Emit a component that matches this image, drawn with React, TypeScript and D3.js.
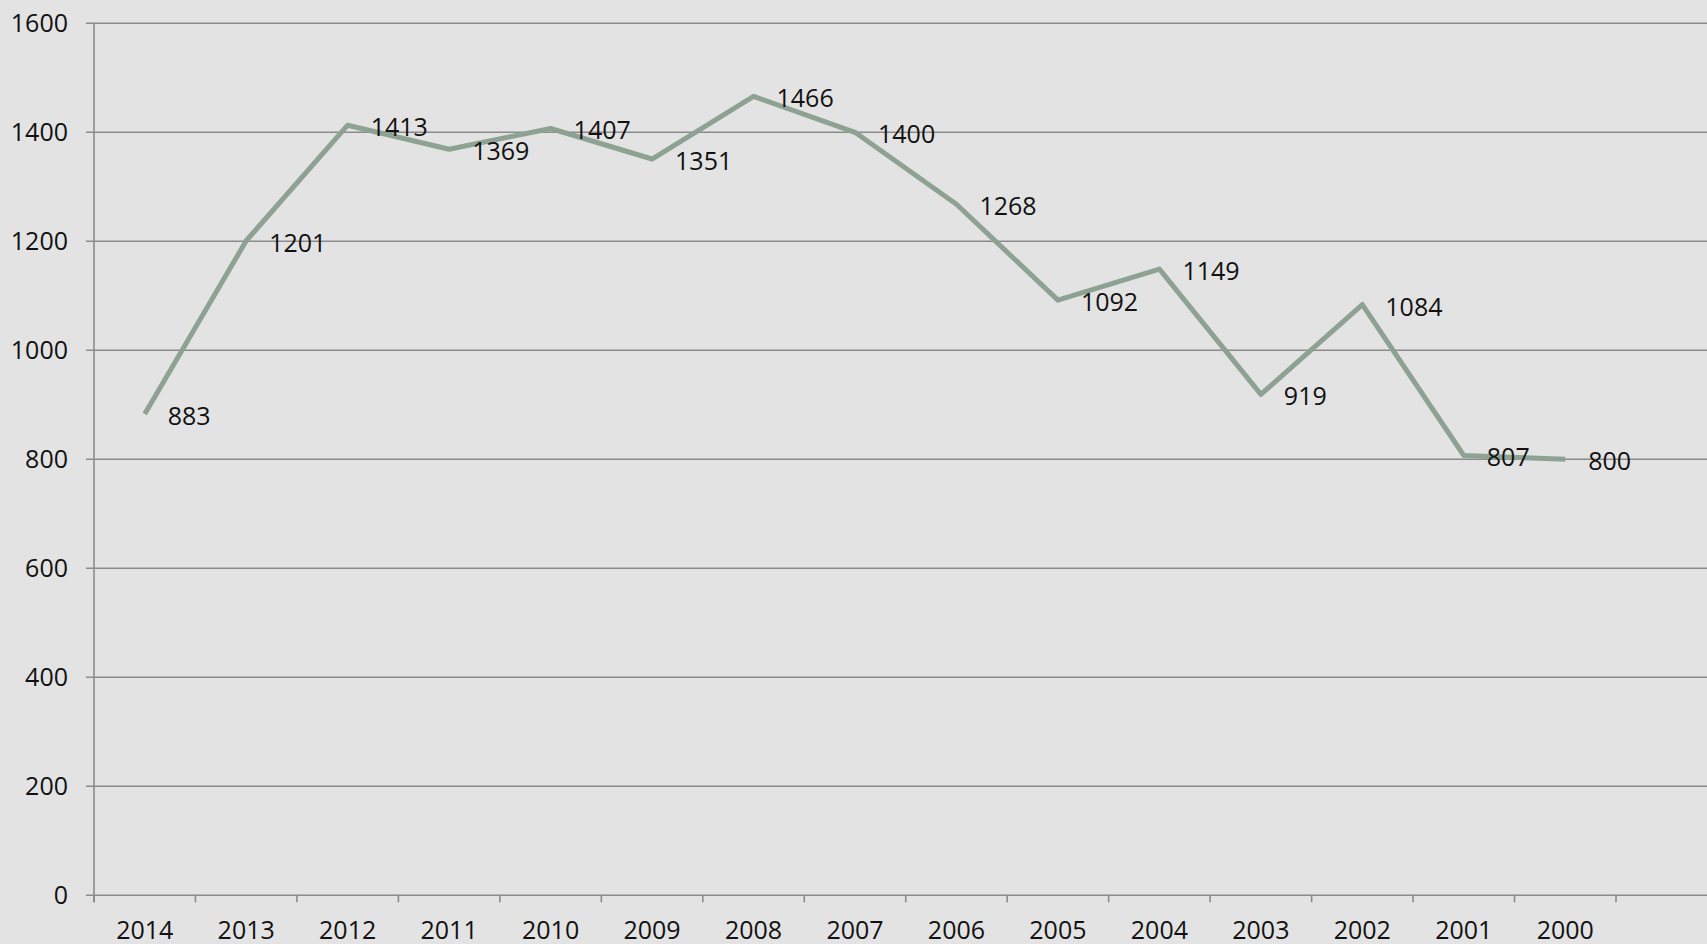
import React from "react";
import * as d3 from "d3";

const years = ["2014","2013","2012","2011","2010","2009","2008","2007","2006","2005","2004","2003","2002","2001","2000"];
const values = [883, 1201, 1413, 1369, 1407, 1351, 1466, 1400, 1268, 1092, 1149, 919, 1084, 807, 800];
const yTicks = [0, 200, 400, 600, 800, 1000, 1200, 1400, 1600];

const W = 1707;
const H = 944;
const left = 94;
const bandRight = 1616;
const top = 23.3;
const bottom = 895.3;
const FONT = "'Open Sans', sans-serif";

export default function App() {
  const x = d3.scaleBand<string>().domain(years).range([left, bandRight]);
  const y = d3.scaleLinear().domain([0, 1600]).range([bottom, top]);
  const cx = (d: string) => (x(d) ?? 0) + x.bandwidth() / 2;
  const line = d3
    .line<number>()
    .x((_, i) => cx(years[i]))
    .y((v) => y(v));
  const tickXs = years.map((d) => x(d) ?? 0).concat([bandRight]);

  return (
    <svg
      width={W}
      height={H}
      style={{ position: "fixed", left: 0, top: 0, background: "#e3e3e3" }}
      fontFamily={FONT}
    >
      <rect x={0} y={0} width={W} height={H} fill="#e3e3e3" />
      {yTicks.map((t) => (
        <g key={t}>
          <line x1={86} x2={W} y1={y(t)} y2={y(t)} stroke="#8b8b8b" strokeWidth={1.6} />
          <text x={68} y={y(t) + 9} textAnchor="end" fontSize={25} fill="#111">
            {t}
          </text>
        </g>
      ))}
      <line x1={left} x2={left} y1={top} y2={bottom + 7} stroke="#8b8b8b" strokeWidth={1.6} />
      {tickXs.map((tx, i) => (
        <line key={i} x1={tx} x2={tx} y1={bottom} y2={bottom + 7} stroke="#8b8b8b" strokeWidth={1.6} />
      ))}
      {years.map((d) => (
        <text key={d} x={cx(d)} y={939} textAnchor="middle" fontSize={25} fill="#111">
          {d}
        </text>
      ))}
      <path
        d={line(values) ?? ""}
        fill="none"
        stroke="#8ea293"
        strokeWidth={5}
        strokeLinejoin="round"
      />
      {values.map((v, i) => (
        <text key={i} x={cx(years[i]) + 23} y={y(v) + 11} fontSize={25} fill="#111">
          {v}
        </text>
      ))}
    </svg>
  );
}
